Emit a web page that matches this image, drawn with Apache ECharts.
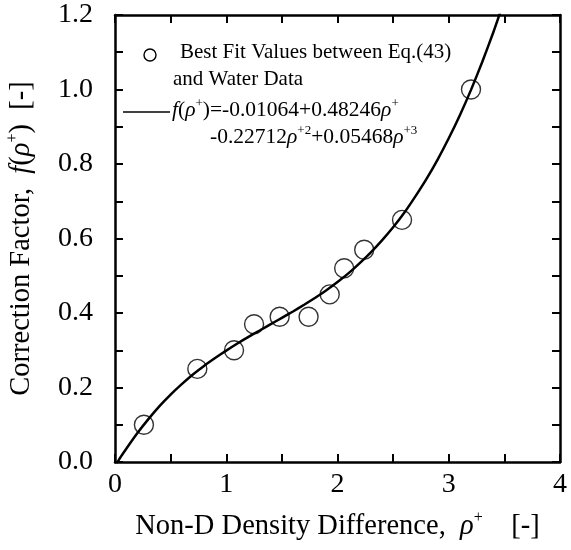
<!DOCTYPE html>
<html>
<head>
<meta charset="utf-8">
<script src="https://cdn.jsdelivr.net/npm/echarts@6/dist/echarts.min.js"></script>
<style>html,body{margin:0;padding:0;background:#fff}#c{width:571px;height:550px}</style>
</head>
<body>
<div id="c"></div>
<script>
// Data
var pointX = [0.26, 0.74, 1.07, 1.25, 1.48, 1.74, 1.93, 2.06, 2.24, 2.58, 3.20];
var pointY = [0.10, 0.25, 0.30, 0.37, 0.39, 0.39, 0.45, 0.52, 0.57, 0.65, 1.00];
var curveX = [0.0, 0.05, 0.1, 0.2, 0.3, 0.4, 0.5, 0.6, 0.7, 0.8, 0.9, 1.0, 1.1, 1.2, 1.3, 1.4, 1.5, 1.6, 1.7, 1.8, 1.9, 2.0, 2.1, 2.2, 2.3, 2.4, 2.5, 2.6, 2.7, 2.8, 2.9, 3.0, 3.1, 3.2, 3.3, 3.4, 3.45, 3.5];
var curveY = [-0.011, 0.013, 0.035, 0.077, 0.115, 0.150, 0.181, 0.209, 0.235, 0.258, 0.279, 0.299, 0.318, 0.336, 0.353, 0.370, 0.387, 0.404, 0.422, 0.441, 0.461, 0.483, 0.507, 0.534, 0.563, 0.595, 0.630, 0.669, 0.713, 0.760, 0.812, 0.869, 0.931, 0.999, 1.073, 1.153, 1.196, 1.240];
var xTickLabels = ['0', '1', '2', '3', '4'];
var yTickLabels = ['0.0', '0.2', '0.4', '0.6', '0.8', '1.0', '1.2'];

var FONT = 'Liberation Serif';
var richBase = {
  t: {fontFamily: FONT, fontSize: 28.5, color: '#000'},
  it: {fontFamily: FONT, fontSize: 28.5, fontStyle: 'italic', color: '#000'},
  sup: {fontFamily: FONT, fontSize: 16, color: '#000', verticalAlign: 'top', lineHeight: 33}
};
var legRich = {
  t: {fontFamily: FONT, fontSize: 21.5, color: '#000'},
  it: {fontFamily: FONT, fontSize: 21.5, fontStyle: 'italic', color: '#000'},
  sup: {fontFamily: FONT, fontSize: 13, color: '#000', verticalAlign: 'top', lineHeight: 26}
};

var scatterData = pointX.map(function (x, i) { return [x, pointY[i]]; });
var curveData = curveX.map(function (x, i) { return [x, curveY[i]]; });

function xLabel(v) {
  var s = String(Math.round(v * 10) / 10);
  return xTickLabels.indexOf(s) >= 0 ? s : '';
}
function yLabel(v) {
  var s = (Math.round(v * 10) / 10).toFixed(1);
  return yTickLabels.indexOf(s) >= 0 ? s : '';
}

var axisLine = {show: true, onZero: false, lineStyle: {color: '#000', width: 2.5}};
var axisTick = {show: true, inside: true, length: 8, lineStyle: {color: '#000', width: 2}};

var chart = echarts.init(document.getElementById('c'), null, {renderer: 'canvas'});
chart.setOption({
  animation: false,
  backgroundColor: '#fff',
  grid: {left: 115, right: 11, top: 15, bottom: 88, containLabel: false, outerBoundsMode: 'none'},
  xAxis: [{
    type: 'value', min: 0, max: 4, interval: 0.5, position: 'bottom',
    axisLine: axisLine, axisTick: axisTick, splitLine: {show: false},
    axisLabel: {formatter: xLabel, fontFamily: FONT, fontSize: 28, color: '#000', margin: 9, showMaxLabel: true},
    name: '{t|Non-D Density Difference,  }{it|ρ}{sup|+}{t|    [-]}',
    nameLocation: 'middle', nameGap: 48,
    nameTextStyle: {rich: richBase}
  }, {
    type: 'value', min: 0, max: 4, interval: 0.5, position: 'top',
    axisLine: axisLine, axisTick: axisTick, splitLine: {show: false},
    axisLabel: {show: false}
  }],
  yAxis: [{
    type: 'value', min: 0, max: 1.2, interval: 0.1, position: 'left',
    axisLine: axisLine, axisTick: axisTick, splitLine: {show: false},
    axisLabel: {formatter: yLabel, fontFamily: FONT, fontSize: 28, color: '#000', margin: 22},
    name: '{t|Correction Factor,  }{it|f}{t|(}{it|ρ}{sup|+}{t|)  [-]}',
    nameLocation: 'middle', nameGap: 77, nameRotate: 90,
    nameTextStyle: {rich: richBase}
  }, {
    type: 'value', min: 0, max: 1.2, interval: 0.1, position: 'right',
    axisLine: axisLine, axisTick: axisTick, splitLine: {show: false},
    axisLabel: {show: false}
  }],
  series: [{
    type: 'line', data: curveData, showSymbol: false, smooth: 0.2, clip: true,
    lineStyle: {color: '#000', width: 2.5}, z: 3
  }, {
    type: 'scatter', data: scatterData, symbol: 'circle', symbolSize: 19,
    itemStyle: {color: 'rgba(0,0,0,0)', borderColor: '#000', borderWidth: 1.4}, z: 4
  }],
  graphic: [
    {type: 'circle', shape: {cx: 150, cy: 55, r: 6}, style: {fill: 'none', stroke: '#000', lineWidth: 1.4}},
    {type: 'text', left: 180, top: 42, style: {text: 'Best Fit Values between Eq.(43)', font: '21px "Liberation Serif"', fill: '#000'}},
    {type: 'text', left: 173, top: 69, style: {text: 'and Water Data', font: '21px "Liberation Serif"', fill: '#000'}},
    {type: 'line', shape: {x1: 123, y1: 112, x2: 170, y2: 112}, style: {stroke: '#000', lineWidth: 1.5}},
    {type: 'text', left: 172, top: 97, style: {text: '{it|f}{t|(}{it|ρ}{sup|+}{t|)=-0.01064+0.48246}{it|ρ}{sup|+}', rich: legRich}},
    {type: 'text', left: 210, top: 124, style: {text: '{t|-0.22712}{it|ρ}{sup|+2}{t|+0.05468}{it|ρ}{sup|+3}', rich: legRich}}
  ]
});
</script>
</body>
</html>
